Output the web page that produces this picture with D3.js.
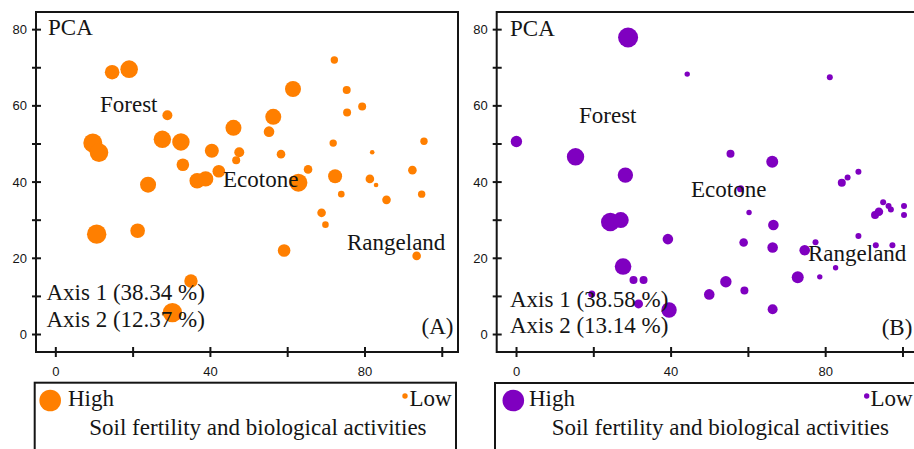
<!DOCTYPE html>
<html><head><meta charset="utf-8">
<script src="https://cdn.jsdelivr.net/npm/d3@7"></script>
<style>body{margin:0;background:#fff;} svg{display:block;}</style>
</head><body>
<svg id="chart" width="914" height="449"></svg>
<script>
// ---- data ----
const yTicks = [0, 10, 20, 30, 40, 50, 60, 70, 80];
const yTickLabels = ["0", "", "20", "", "40", "", "60", "", "80"];
const xTicks = [0, 20, 40, 60, 80, 100];
const xTickLabels = ["0", "", "40", "", "80", ""];

// Panel A (orange)
const aX = [14.7,19.1,72.2,75.4,79.4,75.5,61.5,56.4,29.0,46.1,55.3,9.7,11.3,27.7,32.5,40.5,47.6,46.8,33.0,58.4,71.9,82.0,95.4,92.4,65.4,42.3,24.0,36.7,38.9,62.9,72.4,81.4,83.0,74.0,85.7,94.8,68.9,69.9,10.7,21.3,59.2,93.5,35.1,30.3];
const aY = [68.7,69.5,71.9,64.0,59.7,58.1,64.3,57.0,57.4,54.1,53.1,50.1,47.6,51.1,50.4,48.1,47.7,45.6,44.4,47.2,50.1,47.7,50.6,43.0,43.2,42.7,39.2,40.2,40.7,39.7,41.4,40.7,39.1,36.7,35.2,36.7,31.8,28.7,26.2,27.1,21.9,20.5,13.9,5.6];
const aSize = [7.3,8.8,3.7,4,4,4,8,8,5,8,5.3,9.5,9.3,8.7,8.7,7,5,4,6.3,4.3,3.7,2.3,3.7,4.3,4.3,6.3,8,7.7,7.7,9,7,4.3,2.3,3.3,4.3,3.7,4.3,3.3,9.7,7.3,6.3,4.3,6.7,9.7];

// Panel B (purple)
const bX = [29.0,44.3,81.2,0.1,15.4,28.3,55.5,66.3,88.6,85.8,84.3,58.1,60.3,66.6,24.4,27.1,39.3,58.9,66.4,74.7,77.5,88.6,92.9,93.9,95.0,96.4,97.0,100.4,100.4,93.1,97.4,82.7,78.6,72.9,54.3,50.0,59.1,66.4,27.7,30.4,33.0,19.6,31.7,39.6];
const bY = [77.8,68.2,67.4,50.5,46.5,41.7,47.3,45.2,42.6,41.1,39.7,38.1,31.9,28.6,29.4,29.9,24.9,24.0,22.7,22.0,24.1,25.7,31.2,32.1,34.6,33.6,32.7,33.6,31.2,23.3,23.3,17.4,15.0,14.9,13.7,10.4,11.4,6.5,17.7,14.2,14.2,10.5,7.9,6.3];
const bSize = [10,2.7,3,5.7,8.7,7.7,4,6,3,3,4,3.5,2.7,5.3,9.3,8,5.3,4.3,5.3,5.3,3,3,4,4.3,3,3,3,3,3,3,3,2.7,2.7,6,5.7,5.3,4,5,8.3,4,4,3.5,4.5,7.7];

const legendSizes = [10.8, 2.7]; // High, Low

const panels = [
  { id: "A", dx: 0, color: "#ff7f00", xs: aX, ys: aY, ss: aSize,
    axis1: "Axis 1 (38.34 %)", axis2: "Axis 2 (12.37 %)",
    labels: [
      {t: "PCA", x: 48, y: 35}, {t: "Forest", x: 100, y: 112},
      {t: "Ecotone", x: 223, y: 187}, {t: "Rangeland", x: 347, y: 250},
      {t: "Axis 1 (38.34 %)", x: 46.5, y: 300}, {t: "Axis 2 (12.37 %)", x: 46.5, y: 327},
      {t: "(A)", x: 421.5, y: 334}
    ],
    legend: { left: 34.7, top: 382.7, width: 421.3, hx: 50.2, hy: 400.5, htx: 68, lx: 405, ly: 396, ltx: 409.5, soilx: 89.3 } },
  { id: "B", dx: 460.7, color: "#7f00c0", xs: bX, ys: bY, ss: bSize,
    labels: [
      {t: "PCA", x: 510, y: 36}, {t: "Forest", x: 579, y: 122.5},
      {t: "Ecotone", x: 691, y: 196.5}, {t: "Rangeland", x: 808, y: 260.5},
      {t: "Axis 1 (38.58 %)", x: 510, y: 306.5}, {t: "Axis 2 (13.14 %)", x: 510, y: 333},
      {t: "(B)", x: 881.7, y: 335}
    ],
    legend: { left: 495, top: 383, width: 440, hx: 513.3, hy: 400.5, htx: 529, lx: 866.7, ly: 396, ltx: 870.5, soilx: 551.7 } }
];

const svg = d3.select("#chart");
const ink = "#151515";
const serif = "'Liberation Serif', 'Times New Roman', serif";
const sans = "'Liberation Sans', Arial, sans-serif";

const rScale = d3.scaleLinear().domain([0, 10]).range([0, 10]);

panels.forEach(p => {
  const left = 36 + p.dx, right = 458 + p.dx, top = 12, bottom = 352;
  const x = d3.scaleLinear().domain([-5, 104.2]).range([left, right]);
  const y = d3.scaleLinear().domain([-4.72, 84.5]).range([bottom, top]);
  const g = svg.append("g");

  // points
  const pts = p.xs.map((v, i) => ({x: v, y: p.ys[i], s: p.ss[i]}));
  g.append("g").selectAll("circle").data(pts).join("circle")
    .attr("cx", d => x(d.x)).attr("cy", d => y(d.y)).attr("r", d => rScale(d.s))
    .attr("fill", p.color);

  // frame
  g.append("rect").attr("x", left).attr("y", top).attr("width", right - left).attr("height", bottom - top)
    .attr("fill", "none").attr("stroke", ink).attr("stroke-width", 2);

  // y axis
  const yAxis = d3.axisLeft(y).tickValues(yTicks).tickSize(0).tickPadding(9)
    .tickFormat((d, i) => yTickLabels[i]);
  const ya = g.append("g").attr("transform", `translate(${left},0)`).call(yAxis);
  ya.select(".domain").remove();
  ya.selectAll(".tick line").attr("x1", -4).attr("x2", 5).attr("stroke", ink).attr("stroke-width", 2);
  ya.selectAll(".tick text").attr("font-family", sans).attr("font-size", 13).attr("fill", ink).attr("dy", "0.35em");

  // x axis
  const xAxis = d3.axisBottom(x).tickValues(xTicks).tickSize(0).tickPadding(15)
    .tickFormat((d, i) => xTickLabels[i]);
  const xa = g.append("g").attr("transform", `translate(0,${bottom})`).call(xAxis);
  xa.select(".domain").remove();
  xa.selectAll(".tick line").attr("y1", -5).attr("y2", 5).attr("stroke", ink).attr("stroke-width", 2);
  xa.selectAll(".tick text").attr("font-family", sans).attr("font-size", 13).attr("fill", ink);

  // labels
  g.append("g").selectAll("text").data(p.labels).join("text")
    .attr("x", d => d.x).attr("y", d => d.y).text(d => d.t)
    .attr("font-family", serif).attr("font-size", 23).attr("fill", ink);

  // legend
  const L = p.legend;
  g.append("rect").attr("x", L.left).attr("y", L.top).attr("width", L.width).attr("height", 100)
    .attr("fill", "none").attr("stroke", ink).attr("stroke-width", 2);
  g.append("circle").attr("cx", L.hx).attr("cy", L.hy).attr("r", legendSizes[0]).attr("fill", p.color);
  g.append("circle").attr("cx", L.lx).attr("cy", L.ly).attr("r", legendSizes[1]).attr("fill", p.color);
  g.append("text").attr("x", L.htx).attr("y", 406).text("High")
    .attr("font-family", serif).attr("font-size", 23).attr("fill", ink);
  g.append("text").attr("x", L.ltx).attr("y", 406).text("Low")
    .attr("font-family", serif).attr("font-size", 23).attr("fill", ink);
  g.append("text").attr("x", L.soilx).attr("y", 435).text("Soil fertility and biological activities")
    .attr("font-family", serif).attr("font-size", 23).attr("fill", ink);
});
</script>
</body></html>
